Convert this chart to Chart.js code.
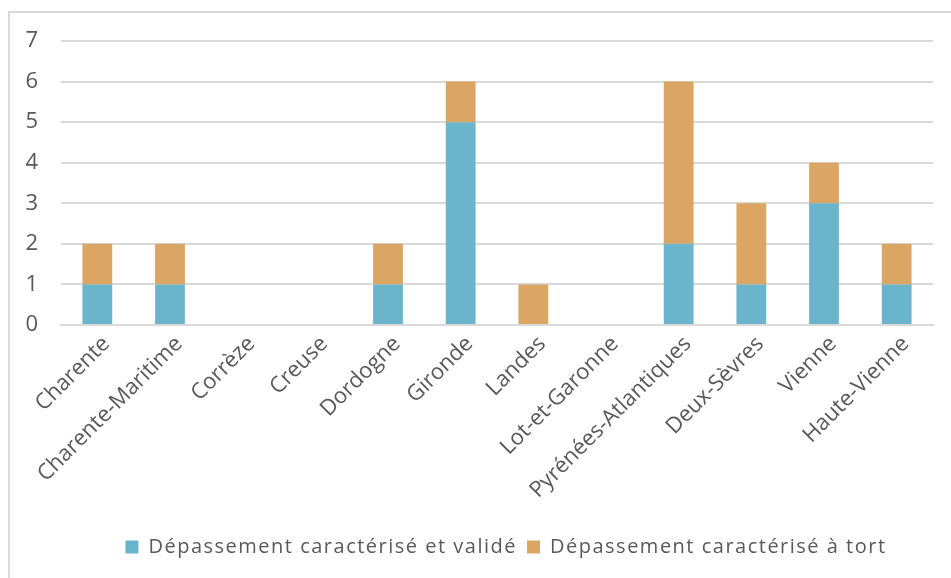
<!DOCTYPE html>
<html>
<head>
<meta charset="utf-8">
<script src="https://cdn.jsdelivr.net/npm/chart.js@4.4.0/dist/chart.umd.min.js"></script>
<style>
  html, body { margin: 0; padding: 0; background: #fff; overflow: hidden; }
  #wrap { position: relative; width: 951px; height: 578px; }
  #frame { position: absolute; left: 8px; top: 11px; width: 1000px; height: 700px;
           border-left: 2px solid #d9d9d9; border-top: 2px solid #d9d9d9; box-sizing: border-box; }
  canvas { position: absolute; left: 0; top: 0; }
</style>
</head>
<body>
<div id="wrap">
  <div id="frame"></div>
  <canvas id="c" width="951" height="578"></canvas>
</div>
<script>
const categories = ["Charente", "Charente-Maritime", "Corrèze", "Creuse", "Dordogne", "Gironde",
  "Landes", "Lot-et-Garonne", "Pyrénées-Atlantiques", "Deux-Sèvres", "Vienne", "Haute-Vienne"];
const seriesNames = ["Dépassement caractérisé et validé", "Dépassement caractérisé à tort"];
const valides = [1, 1, 0, 0, 1, 5, 0, 0, 2, 1, 3, 1];
const aTort   = [1, 1, 0, 0, 1, 1, 1, 0, 4, 2, 1, 1];
const yTicks = [0, 1, 2, 3, 4, 5, 6, 7];

const FONT = "'Open Sans', sans-serif";
const TXT = "#595959";

const legendSpacing = {
  id: 'legendSpacing',
  beforeLayout(chart) {
    const lg = chart.legend;
    if (!lg || lg._spaced) return;
    const fit0 = lg.fit, draw0 = lg.draw;
    lg.fit = function () {
      const c = this.ctx; const prev = c.letterSpacing;
      c.letterSpacing = '1.5px';
      const r = fit0.apply(this, arguments);
      c.letterSpacing = prev;
      return r;
    };
    lg.draw = function () {
      const c = this.ctx; c.save();
      c.letterSpacing = '1.5px';
      c.translate(32, 0);
      const r = draw0.apply(this, arguments);
      c.restore();
      return r;
    };
    lg._spaced = true;
  }
};

new Chart(document.getElementById('c'), {
  type: 'bar',
  data: {
    labels: categories,
    datasets: [
      { label: seriesNames[0], data: valides, backgroundColor: '#6bb5cc', borderWidth: 0,
        categoryPercentage: 1, barPercentage: 0.41 },
      { label: seriesNames[1], data: aTort, backgroundColor: '#dba563', borderWidth: 0,
        categoryPercentage: 1, barPercentage: 0.41 }
    ]
  },
  plugins: [legendSpacing],
  options: {
    responsive: false,
    animation: false,
    devicePixelRatio: 1,
    layout: { padding: { left: 15, right: 18, top: 41, bottom: 11 } },
    plugins: {
      tooltip: { enabled: false },
      legend: {
        position: 'bottom',
        labels: {
          color: TXT,
          font: { family: FONT, size: 20 },
          boxWidth: 13, boxHeight: 13, padding: 10
        }
      }
    },
    scales: {
      x: {
        stacked: true,
        grid: { display: false, drawTicks: false },
        border: { display: true, color: '#d9d9d9', width: 2 },
        ticks: {
          color: TXT, font: { family: FONT, size: 22 },
          maxRotation: 45, minRotation: 45, autoSkip: false, padding: 6, labelOffset: 9
        },
        afterFit: s => { s.height = 202; }
      },
      y: {
        stacked: true,
        min: 0, max: 7,
        afterBuildTicks: s => { s.ticks = yTicks.map(v => ({ value: v })); },
        grid: { color: '#d9d9d9', lineWidth: 2, drawTicks: false },
        border: { display: false },
        ticks: { color: TXT, font: { family: FONT, size: 22 }, padding: 23 },
        afterFit: s => { s.width = 46; }
      }
    }
  }
});
</script>
</body>
</html>
